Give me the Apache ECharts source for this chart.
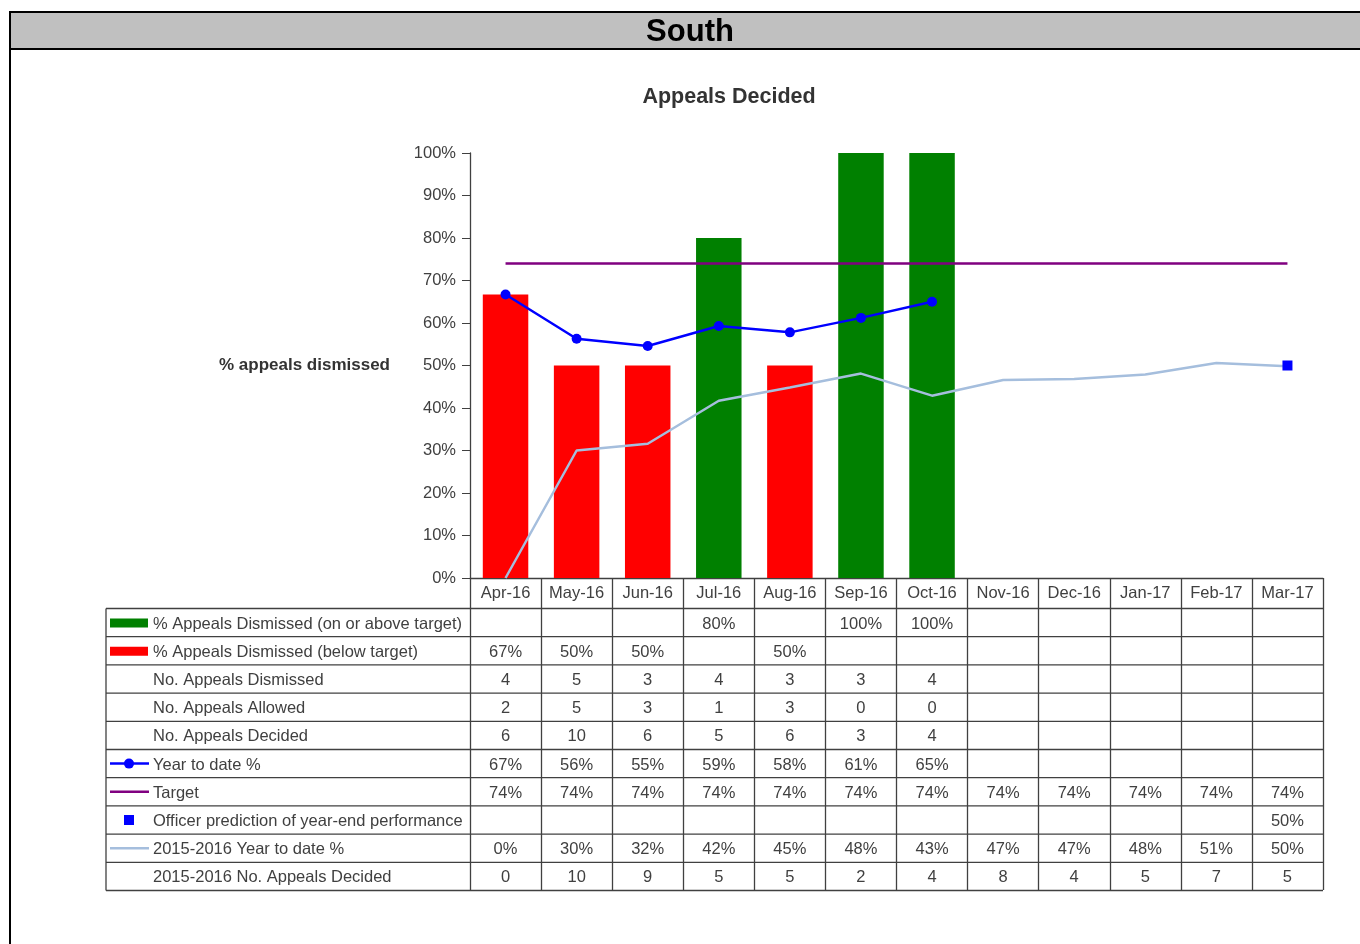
<!DOCTYPE html>
<html><head><meta charset="utf-8">
<script src="https://cdn.jsdelivr.net/npm/echarts@6/dist/echarts.min.js"></script>
<style>html,body{margin:0;padding:0;background:#fff}#c{width:1360px;height:944px}</style>
</head><body><div id="c"></div>
<script>
const categories = ['Apr-16','May-16','Jun-16','Jul-16','Aug-16','Sep-16','Oct-16','Nov-16','Dec-16','Jan-17','Feb-17','Mar-17'];
const dismissedOnTarget = [null,null,null,80,null,100,100,null,null,null,null,null];
const dismissedBelow = [66.7,50,50,null,50,null,null,null,null,null,null,null];
const noDismissed = [4,5,3,4,3,3,4,null,null,null,null,null];
const noAllowed = [2,5,3,1,3,0,0,null,null,null,null,null];
const noDecided = [6,10,6,5,6,3,4,null,null,null,null,null];
const ytd = [66.7,56.3,54.6,59.3,57.8,61.2,65.0,null,null,null,null,null];
const target = [74,74,74,74,74,74,74,74,74,74,74,74];
const prediction = [null,null,null,null,null,null,null,null,null,null,null,50];
const prevYtd = [0,30,31.6,41.7,44.8,48.1,42.9,46.6,46.8,47.9,50.6,49.8];
const prevDecided = [0,10,9,5,5,2,4,8,4,5,7,5];
const yTicks = [0,10,20,30,40,50,60,70,80,90,100];

const FONT = 'Liberation Sans, Arial, sans-serif';
const TXT = '#404040';
const chart = echarts.init(document.getElementById('c'));
const pct = v => v == null ? '' : Math.round(v) + '%';
const num = v => v == null ? '' : String(v);

chart.setOption({
  animation: false,
  textStyle: {fontFamily: FONT},
  title: [
    {text: 'South', left: 685, top: 12, textAlign: 'center', textStyle: {fontSize: 31, fontWeight: 'bold', color: '#000', fontFamily: FONT}},
    {text: 'Appeals Decided', left: 724, top: 81, textAlign: 'center', textStyle: {fontSize: 21.5, fontWeight: 'bold', color: '#333', fontFamily: FONT}}
  ],
  grid: {left: 470, top: 153, width: 853, height: 425, containLabel: false},
  xAxis: {
    type: 'category', data: categories, boundaryGap: true,
    axisLine: {show: true, lineStyle: {color: TXT, width: 1.3}},
    axisTick: {show: true, interval: 0, alignWithLabel: false, length: 312, lineStyle: {color: TXT, width: 1.3}},
    axisLabel: {interval: 0, margin: 7, fontSize: 16.5, color: TXT, fontFamily: FONT}
  },
  yAxis: {
    type: 'value', min: 0, max: 100, interval: 10,
    name: '% appeals dismissed', nameLocation: 'middle', nameRotate: 0, nameGap: 80,
    nameTextStyle: {fontSize: 17, fontWeight: 'bold', color: '#333', fontFamily: FONT, align: 'right'},
    axisLine: {show: true, lineStyle: {color: TXT, width: 1.3}},
    axisTick: {show: true, length: 8, lineStyle: {color: TXT}},
    splitLine: {show: false},
    axisLabel: {formatter: '{value}%', fontSize: 16.5, color: TXT, margin: 14, fontFamily: FONT}
  },
  series: [
    {name: '% Appeals Dismissed (on or above target)', type: 'bar', stack: 'b', data: dismissedOnTarget, barWidth: '64%', itemStyle: {color: '#008000'}},
    {name: '% Appeals Dismissed (below target)', type: 'bar', stack: 'b', data: dismissedBelow, barWidth: '64%', itemStyle: {color: '#FF0000'}},
    {name: 'Target', type: 'line', data: target, symbol: 'none', lineStyle: {color: '#800080', width: 2.5}, z: 3},
    {name: '2015-2016 Year to date %', type: 'line', data: prevYtd, symbol: 'none', lineStyle: {color: '#A5BEDD', width: 2.5}, z: 3},
    {name: 'Year to date %', type: 'line', data: ytd, symbol: 'circle', symbolSize: 10, itemStyle: {color: '#0000FF'}, lineStyle: {color: '#0000FF', width: 2.5}, z: 4},
    {name: 'Officer prediction of year-end performance', type: 'line', data: prediction, symbol: 'rect', symbolSize: 10, itemStyle: {color: '#0000FF'}, lineStyle: {width: 0}, z: 5}
  ]
});

function buildTable() {
  const xs = categories.map((c, i) => chart.convertToPixel({xAxisIndex: 0}, i));
  const band = xs[1] - xs[0];
  const right = xs[xs.length - 1] + band / 2;
  const axisY = chart.convertToPixel({yAxisIndex: 0}, 0);
  const left = 106;
  const top = axisY + 30.5;
  const rowH = 28.2;
  const rows = [
    {label: '% Appeals Dismissed (on or above target)', vals: dismissedOnTarget.map(pct), icon: 'green'},
    {label: '% Appeals Dismissed (below target)', vals: dismissedBelow.map(pct), icon: 'red'},
    {label: 'No. Appeals Dismissed', vals: noDismissed.map(num)},
    {label: 'No. Appeals Allowed', vals: noAllowed.map(num)},
    {label: 'No. Appeals Decided', vals: noDecided.map(num)},
    {label: 'Year to date %', vals: ytd.map(pct), icon: 'ytd'},
    {label: 'Target', vals: target.map(pct), icon: 'target'},
    {label: 'Officer prediction of year-end performance', vals: prediction.map(pct), icon: 'pred'},
    {label: '2015-2016 Year to date %', vals: prevYtd.map(pct), icon: 'prev'},
    {label: '2015-2016 No. Appeals Decided', vals: prevDecided.map(num)}
  ];
  const g = [];
  g.push({type: 'rect', shape: {x: 10, y: 12, width: 1360, height: 37}, style: {fill: '#C0C0C0', stroke: '#000', lineWidth: 2}, z: 0});
  g.push({type: 'line', shape: {x1: 10, y1: 12, x2: 10, y2: 944}, style: {stroke: '#000', lineWidth: 2}});
  const lineStyle = {stroke: TXT, lineWidth: 1.3};
  for (let r = 0; r <= rows.length; r++) {
    const y = top + r * rowH;
    g.push({type: 'line', shape: {x1: left, y1: y, x2: right, y2: y}, style: lineStyle});
  }
  g.push({type: 'line', shape: {x1: left, y1: top, x2: left, y2: top + rows.length * rowH}, style: lineStyle});
  rows.forEach((row, r) => {
    const cy = top + r * rowH + rowH / 2;
    const ty = cy + 1.5;
    g.push({type: 'text', x: 153, y: ty, style: {text: row.label, fill: TXT, font: '16.5px ' + FONT, verticalAlign: 'middle', align: 'left'}});
    row.vals.forEach((v, i) => {
      if (v !== '') g.push({type: 'text', x: xs[i], y: ty, style: {text: v, fill: TXT, font: '16.5px ' + FONT, verticalAlign: 'middle', align: 'center'}});
    });
    if (row.icon === 'green' || row.icon === 'red') {
      g.push({type: 'rect', shape: {x: 110, y: cy - 4, width: 38, height: 9}, style: {fill: row.icon === 'green' ? '#008000' : '#FF0000'}});
    } else if (row.icon === 'ytd') {
      g.push({type: 'line', shape: {x1: 110, y1: cy, x2: 149, y2: cy}, style: {stroke: '#0000FF', lineWidth: 2.5}});
      g.push({type: 'circle', shape: {cx: 129, cy: cy, r: 5}, style: {fill: '#0000FF'}});
    } else if (row.icon === 'target') {
      g.push({type: 'line', shape: {x1: 110, y1: cy, x2: 149, y2: cy}, style: {stroke: '#800080', lineWidth: 2.5}});
    } else if (row.icon === 'prev') {
      g.push({type: 'line', shape: {x1: 110, y1: cy, x2: 149, y2: cy}, style: {stroke: '#A5BEDD', lineWidth: 2.5}});
    } else if (row.icon === 'pred') {
      g.push({type: 'rect', shape: {x: 124, y: cy - 5, width: 10, height: 10}, style: {fill: '#0000FF'}});
    }
  });
  chart.setOption({graphic: {elements: g}});
}
buildTable();
</script>
</body></html>
